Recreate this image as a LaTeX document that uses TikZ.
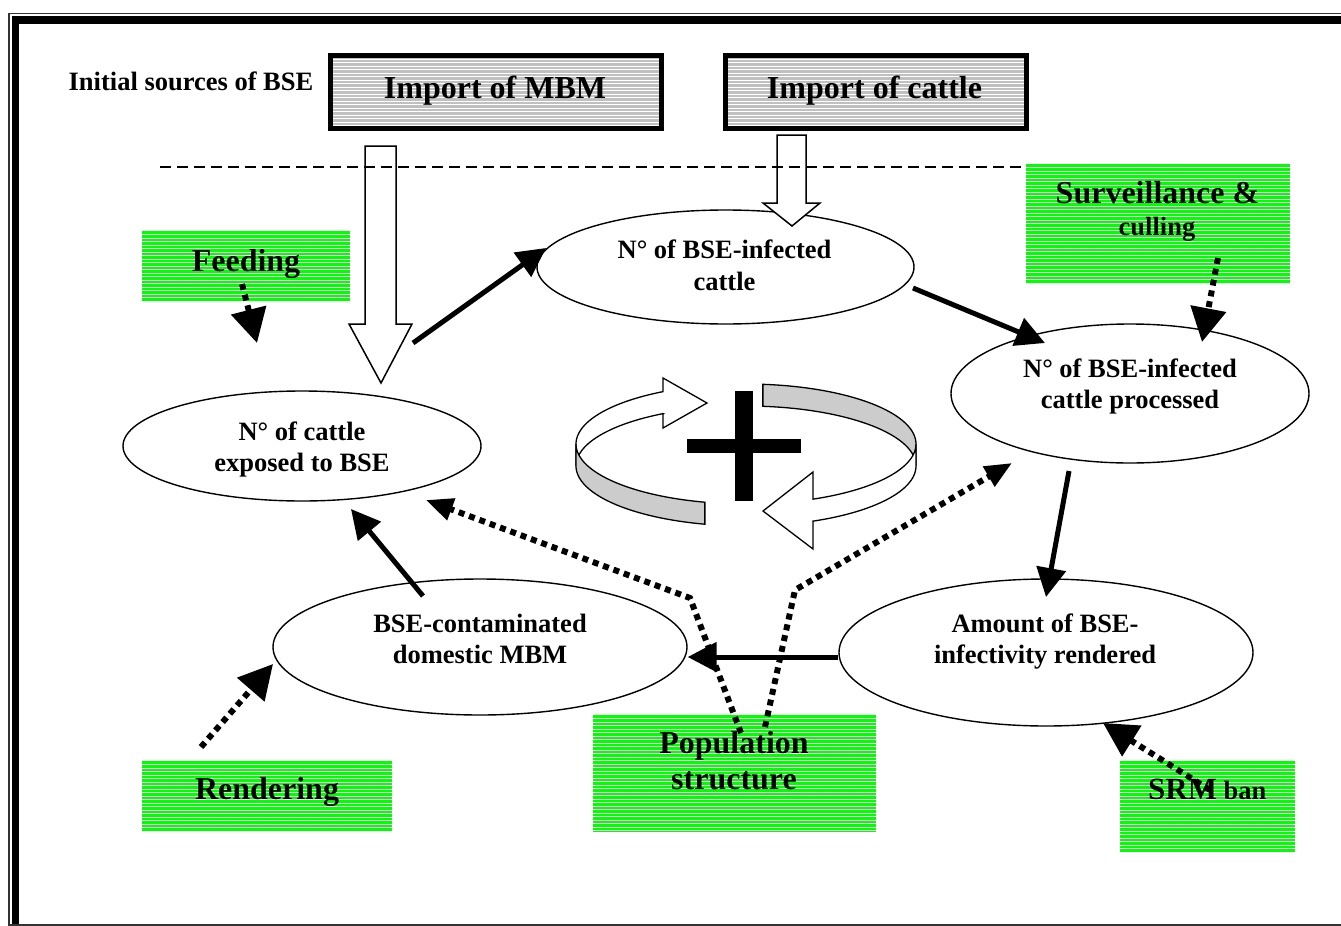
\documentclass[tikz,border=0pt]{standalone}
\usepackage{fontspec}
\setmainfont{Liberation Serif}
\usetikzlibrary{arrows.meta,shapes.geometric,calc}
\definecolor{boxgreen}{RGB}{0,255,0}
\definecolor{boxgray}{RGB}{192,192,192}
\definecolor{ringgray}{RGB}{204,204,204}
\begin{document}
\begin{tikzpicture}[x=1pt,y=-1pt,
  big/.style={font=\fontsize{32}{36}\selectfont\bfseries, inner sep=0pt, anchor=base},
  small/.style={font=\fontsize{26.5}{31}\selectfont\bfseries, inner sep=0pt, anchor=base},
  stripes/.style={path picture={\foreach \k in {1,...,40}{\draw[white,line width=1pt] ([yshift=-\k*3.5pt]path picture bounding box.north west) -- ([yshift=-\k*3.5pt]path picture bounding box.north east);}}},
  greenbox/.style={rectangle, fill=boxgreen, draw=none, inner sep=0pt, stripes},
  graybox/.style={rectangle, fill=boxgray, draw=black, line width=5pt, inner sep=0pt, stripes},
  ell/.style={ellipse, draw=black, line width=1.4pt, fill=white, inner sep=0pt},
  solidarrow/.style={line width=5pt, -{Triangle[length=29pt,width=29pt]}},
  dotarrow/.style={line width=6pt, dash pattern=on 6pt off 5pt, -{Triangle[length=34pt,width=35pt]}},
  popdot/.style={line width=6pt, dash pattern=on 6pt off 5pt, line join=miter, -{Triangle[length=27pt,width=22pt]}},
  hollow/.style={fill=white, draw=black, line width=1.5pt, line join=miter},
  ring/.style={draw=black, line width=1.3pt, line join=miter}
]
% canvas and frame
\fill[white] (0,0) rectangle (1341,926);
\useasboundingbox (0,0) rectangle (1341,926);
\fill[black] (12,16) rectangle (1341,24);
\fill[black] (12,16) rectangle (19,926);
\draw[line width=1.5pt, black!80] (9,926) -- (9,13.5) -- (1341,13.5);
\draw[line width=1.2pt, black!80] (9,925) -- (1341,925);

% source boxes
\node[graybox, minimum width=331pt, minimum height=73pt] (mbm) at (496,92) {};
\node[graybox, minimum width=301.5pt, minimum height=73pt] (cat) at (875.75,92) {};

% green boxes
\node[greenbox, minimum width=208pt, minimum height=71pt] (feed) at (246,266.5) {};
\node[greenbox, minimum width=264pt, minimum height=119pt] (surv) at (1158,223.5) {};
\node[greenbox, minimum width=250pt, minimum height=71pt] (rend) at (267,796.5) {};
\node[greenbox, minimum width=283pt, minimum height=117pt] (pop) at (734.5,773.5) {};
\node[greenbox, minimum width=175pt, minimum height=91pt] (srm) at (1207.5,806.5) {};

% ellipses
\node[ell, minimum width=377pt, minimum height=114pt] (e1) at (725.5,267) {};
\node[ell, minimum width=358pt, minimum height=139pt] (e2) at (1130,393.5) {};
\node[ell, minimum width=358pt, minimum height=110pt] (e3) at (302,446) {};
\node[ell, minimum width=414pt, minimum height=136pt] (e4) at (480,647) {};
\node[ell, minimum width=414pt, minimum height=147pt] (e5) at (1046,652.5) {};

% hollow arrows from the sources
\draw[hollow] (365,146) -- (396,146) -- (396,324) -- (412,324) -- (381,383) -- (349,324) -- (365,324) -- cycle;
\draw[hollow] (777,135) -- (806,135) -- (806,203) -- (820,203) -- (792,226) -- (763,203) -- (777,203) -- cycle;

% dashed separator
\coordinate (dashL) at (160,167);
\draw[line width=1.5pt, dash pattern=on 11pt off 6pt] (dashL) -- (dashL -| surv.west);

% reinforcing loop symbol
\filldraw[ring, fill=white]
  plot[domain=180:240.8, samples=40] ({746+170*cos(\x)},{444+60*sin(\x)})
  -- (663,378) -- (707,403) -- (663,428) -- (663,413.6)
  -- plot[domain=240.8:180, samples=40] ({746+170*cos(\x)},{466+60*sin(\x)}) -- cycle;
\filldraw[ring, fill=ringgray]
  plot[domain=180:104, samples=40] ({746+170*cos(\x)},{444+60*sin(\x)})
  -- plot[domain=104:180, samples=40] ({746+170*cos(\x)},{466+60*sin(\x)}) -- cycle;
\filldraw[ring, fill=ringgray]
  plot[domain=275.7:360, samples=40] ({746+170*cos(\x)},{444+60*sin(\x)})
  -- plot[domain=360:275.7, samples=40] ({746+170*cos(\x)},{466+60*sin(\x)}) -- cycle;
\filldraw[ring, fill=white]
  plot[domain=0:66.8, samples=40] ({746+170*cos(\x)},{444+60*sin(\x)})
  -- (813,472) -- (763,511) -- (813,549) -- (813,521.2)
  -- plot[domain=66.8:0, samples=40] ({746+170*cos(\x)},{466+60*sin(\x)}) -- cycle;
\fill[black] (735,391) rectangle (753,501);
\fill[black] (687,439) rectangle (801,453);

% texts
\node[small] (t0) at (191,90) {Initial sources of BSE};
\node[big] (t1) at (495,98) {Import of MBM};
\node[big] (t2) at (874.5,98) {Import of cattle};
\node[big] (t3) at (246,271) {Feeding};
\node[big] (t4) at (1157.5,203) {Surveillance \&};
\node[small] (t5) at (1157,235) {culling};
\node[big] (t6) at (267,799) {Rendering};
\node[big] (t7) at (734,753) {Population};
\node[big] (t8) at (734,789) {structure};
\node[small, anchor=base west] (t9) at (1148,799) {{\fontsize{31}{31}\selectfont SRM} ban};
\node[small] (e1a) at (724.5,258) {N° of BSE-infected};
\node[small] (e1b) at (724.5,290) {cattle};
\node[small] (e2a) at (1130,377) {N° of BSE-infected};
\node[small] (e2b) at (1130,408) {cattle processed};
\node[small] (e3a) at (302,440) {N° of cattle};
\node[small] (e3b) at (302,471) {exposed to BSE};
\node[small] (e4a) at (480,632) {BSE-contaminated};
\node[small] (e4b) at (480,663) {domestic MBM};
\node[small] (e5a) at (1045,632) {Amount of BSE-};
\node[small] (e5b) at (1045,663) {infectivity rendered};

% solid causal arrows
\coordinate (a1s) at (413,343);  \coordinate (a1e) at (546,248);
\coordinate (a2s) at (913,288);  \coordinate (a2e) at (1045,343);
\coordinate (a3s) at (1069,471); \coordinate (a3e) at (1046,597);
\coordinate (a5s) at (423,596);  \coordinate (a5e) at (351,509);
\draw[solidarrow] (a1s) -- (a1e);
\draw[solidarrow] (a2s) -- (a2e);
\draw[solidarrow] (a3s) -- (a3e);
\draw[solidarrow] (e5.west |- 0,657) -- (e4.east |- 0,657);
\draw[solidarrow] (a5s) -- (a5e);

% dotted control arrows
\coordinate (d1s) at (242,284);  \coordinate (d1e) at (257,343);
\coordinate (d2s) at (1218,258); \coordinate (d2e) at (1202,342);
\coordinate (d3s) at (201,747);  \coordinate (d3e) at (273,664);
\coordinate (d4s) at (1210,790); \coordinate (d4e) at (1103,723);
\coordinate (p1s) at (741,733);  \coordinate (p1m) at (690,598); \coordinate (p1e) at (426,500);
\coordinate (p2s) at (765,727);  \coordinate (p2m) at (795,590); \coordinate (p2e) at (1012,463);
\draw[dotarrow] (d1s) -- (d1e);
\draw[dotarrow] (d2s) -- (d2e);
\draw[dotarrow] (d3s) -- (d3e);
\draw[dotarrow] (d4s) -- (d4e);
\draw[popdot] (p1s) -- (p1m) -- (p1e);
\draw[popdot] (p2s) -- (p2m) -- (p2e);
\end{tikzpicture}
\end{document}
